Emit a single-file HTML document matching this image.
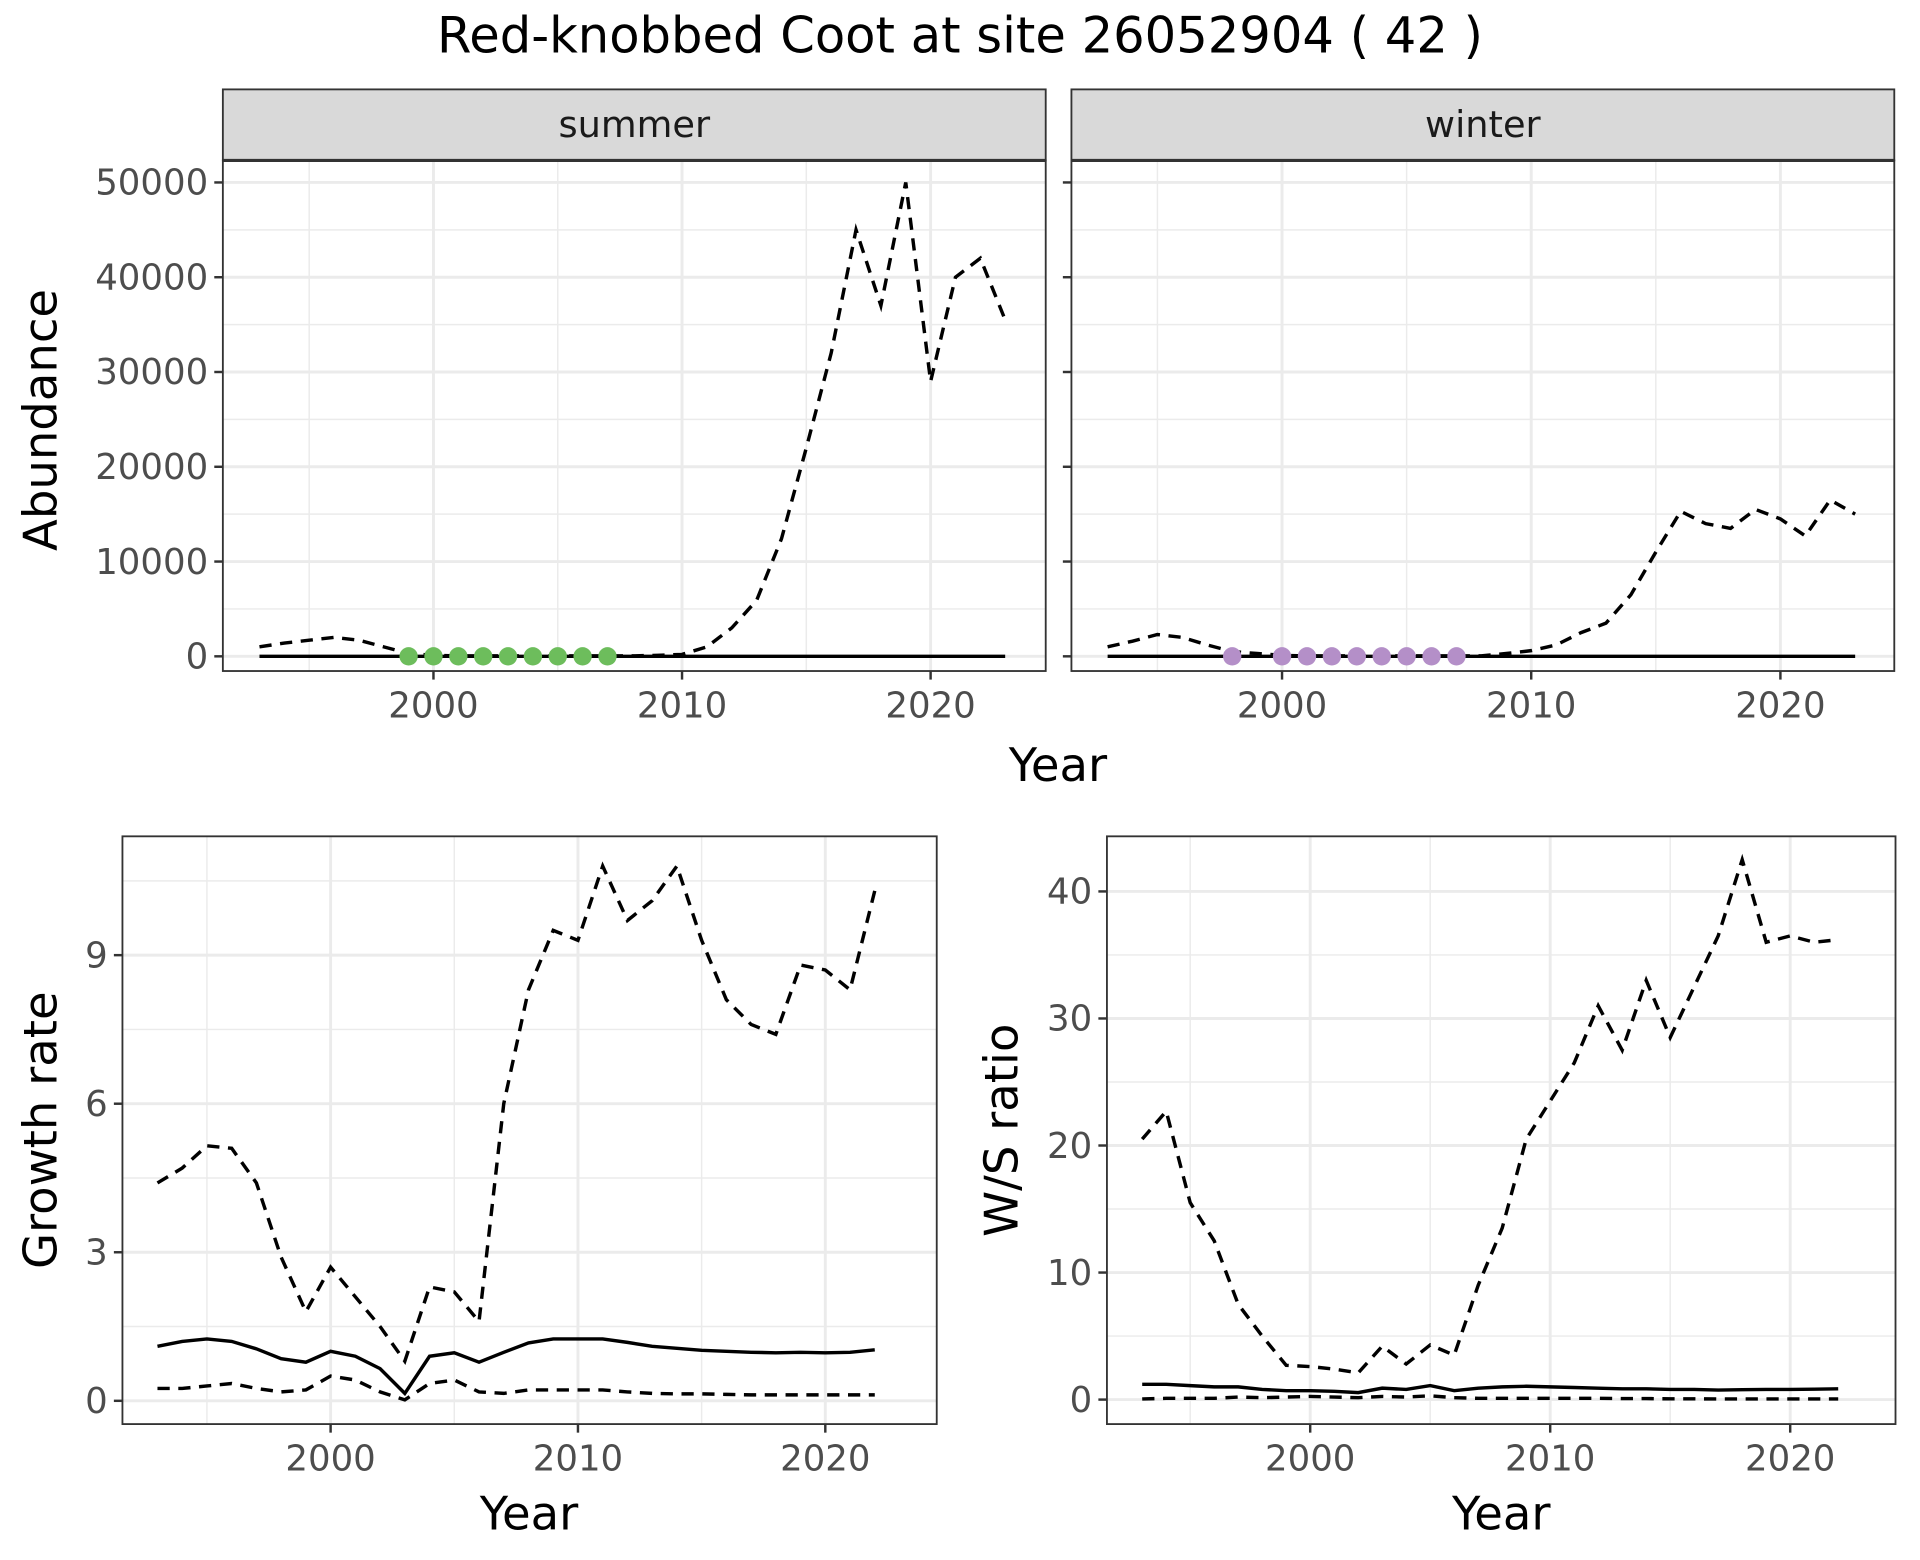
<!DOCTYPE html>
<html><head><meta charset="utf-8"><style>html,body{margin:0;padding:0;background:#fff}svg{display:block}</style></head>
<body>
<svg id="c" width="1920" height="1560" viewBox="0 0 1568 1274" xmlns="http://www.w3.org/2000/svg" font-family="DejaVu Sans, Liberation Sans, sans-serif">
<text x="784" y="43" font-size="40.5" text-anchor="middle" fill="#000">Red-knobbed Coot at site 26052904 ( 42 )</text>
</svg>
<script>
const years = [];
for (let y = 1993; y <= 2023; y++) years.push(y);
const gYears = years.slice(0, 30);
const summerUpper = [1000,1400,1700,2000,1700,1000,300,100,50,50,50,50,50,50,50,50,100,200,1000,3000,5900,12400,22000,32000,45000,37000,50000,29000,40000,42000,35500];
const summerMid = years.map(() => 0);
const summerPts = [1999,2000,2001,2002,2003,2004,2005,2006,2007];
const winterUpper = [1000,1600,2300,2000,1200,500,300,100,50,50,50,50,50,50,50,50,300,600,1200,2500,3500,6500,11000,15300,14000,13500,15500,14500,12700,16500,15000];
const winterMid = years.map(() => 0);
const winterPts = [1998,2000,2001,2002,2003,2004,2005,2006,2007];
const growthUpper = [4.4,4.7,5.15,5.1,4.4,2.9,1.8,2.7,2.1,1.5,0.8,2.3,2.2,1.6,6.0,8.3,9.5,9.3,10.8,9.7,10.1,10.8,9.3,8.1,7.6,7.4,8.8,8.7,8.3,10.3];
const growthMid = [1.1,1.2,1.25,1.2,1.05,0.85,0.78,1.0,0.9,0.65,0.15,0.9,0.97,0.78,0.98,1.17,1.25,1.25,1.25,1.18,1.1,1.06,1.02,1.0,0.98,0.97,0.98,0.97,0.98,1.03];
const growthLower = [0.25,0.25,0.3,0.35,0.25,0.18,0.22,0.5,0.42,0.18,0.02,0.35,0.42,0.18,0.15,0.22,0.22,0.22,0.22,0.18,0.15,0.14,0.14,0.13,0.12,0.12,0.12,0.12,0.12,0.12];
const ratioUpper = [20.5,22.7,15.5,12.5,7.5,5,2.7,2.6,2.4,2.1,4.2,2.8,4.3,3.5,9,13.5,20.5,23.5,26.5,31,27.5,33,28.5,32.5,36.5,42.5,36,36.5,36,36.2];
const ratioMid = [1.2,1.2,1.1,1.0,1.0,0.8,0.7,0.7,0.65,0.55,0.9,0.8,1.1,0.7,0.9,1.0,1.05,1.0,0.95,0.9,0.85,0.85,0.8,0.8,0.75,0.78,0.8,0.8,0.82,0.85];
const ratioLower = [0.05,0.1,0.1,0.1,0.2,0.15,0.2,0.25,0.2,0.15,0.25,0.2,0.3,0.15,0.1,0.1,0.1,0.1,0.1,0.1,0.08,0.08,0.06,0.06,0.05,0.05,0.05,0.05,0.05,0.05];
const xTicks = [2000,2010,2020];
const xMinor = [1995,2005,2015];
const absTicks = [0,10000,20000,30000,40000,50000];
const growthTicks = [0,3,6,9];
const ratioTicks = [0,10,20,30,40];

const svg = document.getElementById('c');
const NS = 'http://www.w3.org/2000/svg';
function mk(tag, attrs, parent) {
  const e = document.createElementNS(NS, tag);
  for (const k in attrs) e.setAttribute(k, attrs[k]);
  (parent || svg).appendChild(e);
  return e;
}
function panel(p) {
  const g = mk('g', {});
  
  
  const sx = v => p.x0 + (v - 2000) * p.xs;
  const sy = v => p.y0 - v * p.ys;
  const yMinor = [];
  for (let i = 0; i < p.yTicks.length; i++) yMinor.push(p.yTicks[i] + (p.yTicks[1] - p.yTicks[0]) / 2);
  yMinor.push(p.yTicks[0] - (p.yTicks[1] - p.yTicks[0]) / 2);
  yMinor.forEach(v => { const y = sy(v); if (y > p.t && y < p.b) mk('line', {x1:p.l,x2:p.r,y1:y,y2:y,stroke:'#ebebeb','stroke-width':1.2}, g); });
  xMinor.forEach(v => mk('line', {x1:sx(v),x2:sx(v),y1:p.t,y2:p.b,stroke:'#ebebeb','stroke-width':1.2}, g));
  p.yTicks.forEach(v => mk('line', {x1:p.l,x2:p.r,y1:sy(v),y2:sy(v),stroke:'#ebebeb','stroke-width':2.4}, g));
  xTicks.forEach(v => mk('line', {x1:sx(v),x2:sx(v),y1:p.t,y2:p.b,stroke:'#ebebeb','stroke-width':2.4}, g));
  const line = (xs, vals, dash) => {
    const pl = mk('polyline', {points: vals.map((v, i) => sx(xs[i]) + ',' + sy(v)).join(' '), fill:'none', stroke:'#000', 'stroke-width':2.8, 'stroke-dasharray': dash ? '10,7' : 'none'}, g);
    
    
  };
  p.series.forEach(s => line(s.xs, s.vals, s.dash));
  if (p.pts) p.pts.forEach(v => {
    const c = mk('circle', {cx:sx(v), cy:sy(0), r:7.5, fill:p.ptColor}, g);
    
    
  });
  mk('rect', {x:p.l,y:p.t,width:p.r-p.l,height:p.b-p.t,fill:'none',stroke:'#333','stroke-width':1.5}, g);
  if (p.strip) {
    mk('rect', {x:p.l,y:p.t-58,width:p.r-p.l,height:58,fill:'#d9d9d9',stroke:'#333','stroke-width':1.5}, g);
    mk('line', {x1:p.l,x2:p.r,y1:p.t,y2:p.t,stroke:'#333','stroke-width':2.5}, g);
    const st = mk('text', {x:(p.l+p.r)/2,y:p.t-19,'font-size':30,'text-anchor':'middle',fill:'#1a1a1a'}, g);
    st.textContent = p.strip;
    
    
  }
  xTicks.forEach(v => {
    mk('line', {x1:sx(v),x2:sx(v),y1:p.b,y2:p.b+7,stroke:'#333','stroke-width':2}, g);
    const t = mk('text', {x:sx(v),y:p.b+38,'font-size':29,'text-anchor':'middle',fill:'#4d4d4d'}, g);
    t.textContent = v;
    
    
  });
  if (p.showY) p.yTicks.forEach(v => {
    mk('line', {x1:p.l-7,x2:p.l,y1:sy(v),y2:sy(v),stroke:'#333','stroke-width':2}, g);
    const t = mk('text', {x:p.l-12,y:sy(v)+10,'font-size':29,'text-anchor':'end',fill:'#4d4d4d'}, g);
    t.textContent = v;
    
    
  });
  else p.yTicks.forEach(v => mk('line', {x1:p.l-7,x2:p.l,y1:sy(v),y2:sy(v),stroke:'#333','stroke-width':2}, g));
  if (p.xTitle) {
    const t = mk('text', {x:p.xTitle[0],y:p.xTitle[1],'font-size':38,'text-anchor':'middle',fill:'#000'}, g);
    t.textContent = 'Year';
    
    
  }
  if (p.yTitle) {
    const t = mk('text', {x:0,y:0,'font-size':38,'text-anchor':'middle',fill:'#000',transform:'translate('+p.yTitle[1]+','+p.yTitle[2]+') rotate(-90)'}, g);
    t.textContent = p.yTitle[0];
    
    
  }
}
panel({name:'summer-panel', l:182,r:854,t:131,b:548,x0:354,xs:20.3,y0:536,ys:0.00774,yTicks:absTicks,showY:true,strip:'summer',
  series:[{xs:years,vals:summerUpper,dash:true},{xs:years,vals:summerMid,dash:false}],pts:summerPts,ptColor:'#6dbd5c',yTitle:['Abundance',46,343]});
panel({name:'winter-panel', l:875,r:1547,t:131,b:548,x0:1047,xs:20.35,y0:536,ys:0.00774,yTicks:absTicks,showY:false,strip:'winter',
  series:[{xs:years,vals:winterUpper,dash:true},{xs:years,vals:winterMid,dash:false}],pts:winterPts,ptColor:'#b48fc8',xTitle:[864,638]});
panel({name:'growth-panel', l:100,r:765,t:683,b:1163,x0:270,xs:20.2,y0:1144,ys:40.44,yTicks:growthTicks,showY:true,
  series:[{xs:gYears,vals:growthUpper,dash:true},{xs:gYears,vals:growthMid,dash:false},{xs:gYears,vals:growthLower,dash:true}],xTitle:[432,1249],yTitle:['Growth rate',46,923]});
panel({name:'ratio-panel', l:904,r:1548,t:683,b:1163,x0:1070,xs:19.6,y0:1143,ys:10.375,yTicks:ratioTicks,showY:true,
  series:[{xs:gYears,vals:ratioUpper,dash:true},{xs:gYears,vals:ratioMid,dash:false},{xs:gYears,vals:ratioLower,dash:true}],xTitle:[1226,1249],yTitle:['W/S ratio',831,923]});
</script>
</body></html>
